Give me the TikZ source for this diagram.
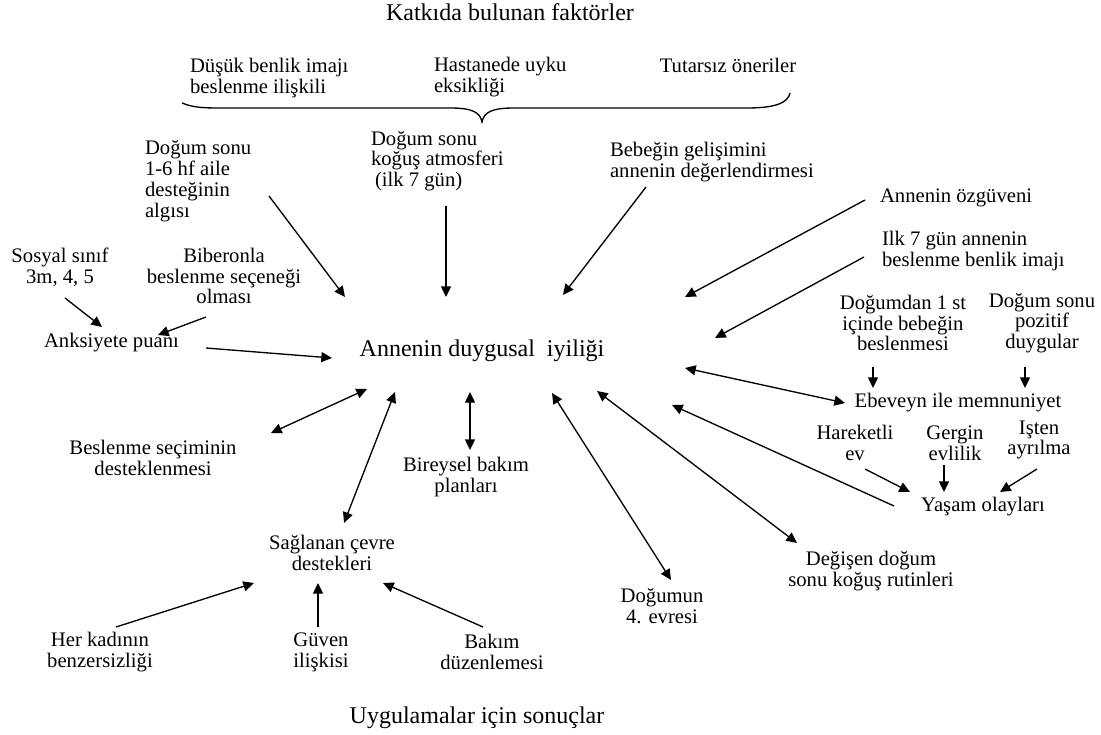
\documentclass[tikz,border=0pt]{standalone}
\usepackage{fontspec}
\setmainfont{Liberation Serif}
\usetikzlibrary{arrows.meta}

\begin{document}
\begin{tikzpicture}[
        x=0.75pt, y=-0.75pt, >={Triangle[length=8pt,width=7.5pt]},
        every node/.style={inner sep=0pt, outer sep=0pt},
        lbl/.style={font=\fontsize{15.5}{15.6}\selectfont, align=center},
        lbll/.style={lbl, align=left, anchor=west},
        big/.style={font=\fontsize{18}{20}\selectfont},
        arr/.style={->, line width=1pt},
        darr/.style={<->, line width=1pt}
        ]
        \useasboundingbox (0,0) rectangle (1101,735);

        % headings and centre
        \node[big] (title)    at (510,12)  {Katkıda bulunan faktörler};
        \node[big] (hub)      at (482,351) {Annenin duygusal\ \ iyiliği};
        \node[big] (sonuc)    at (477,718) {Uygulamalar için sonuçlar};

        % contributing factors
        \node[lbll] (dusuk)     at (190,78)  {Düşük benlik imajı\\beslenme ilişkili};
        \node[lbll] (hastane)   at (434,77)  {Hastanede uyku\\eksikliği};
        \node[lbl]  (tutarsiz)  at (728,65)  {Tutarsız öneriler};
        \node[lbll] (algi)      at (145,181) {Doğum sonu\\1-6 hf aile\\desteğinin\\algısı};
        \node[lbll] (atmosfer)  at (371,161) {Doğum sonu\\koğuş atmosferi\\\hspace*{3pt}(ilk 7 gün)};
        \node[lbll] (bebek)     at (610,162) {Bebeğin gelişimini\\annenin değerlendirmesi};
        \node[lbll] (ozguven)   at (880,198) {Annenin özgüveni};
        \node[lbll] (ilkgun)    at (882,251) {Ilk 7 gün annenin\\beslenme benlik imajı};
        \node[lbl]  (dogumdan)  at (903,323) {Doğumdan 1 st\\içinde bebeğin\\beslenmesi};
        \node[lbl]  (pozitif)   at (1042,323) {Doğum sonu\\pozitif\\duygular};
        \node[lbl]  (ebeveyn)   at (958,403) {Ebeveyn ile memnuniyet};
        \node[lbl]  (hareketli) at (855,443) {Hareketli\\ev};
        \node[lbl]  (gergin)    at (955,443) {Gergin\\evlilik};
        \node[lbl]  (isten)     at (1039,440) {Işten\\ayrılma};
        \node[lbl]  (yasam)     at (983,507) {Yaşam olayları};
        \node[lbll] (anksiyete) at (44,343)  {Anksiyete puanı};
        \node[lbl]  (sosyal)    at (60,267)  {Sosyal sınıf\\3m, 4, 5};
        \node[lbl]  (biberon)   at (224,276) {Biberonla\\beslenme seçeneği\\olması};

        % implications
        \node[lbl] (degisen)  at (871,571) {Değişen doğum\\sonu koğuş rutinleri};
        \node[lbl] (evre)     at (662,606) {Doğumun\\4. evresi};
        \node[lbl] (bireysel) at (466,477) {Bireysel bakım\\planları};
        \node[lbl] (secim)    at (153,458) {Beslenme seçiminin\\desteklenmesi};
        \node[lbl] (saglanan) at (332,553) {Sağlanan çevre\\destekleri};
        \node[lbl] (kadin)    at (100,652) {Her kadının\\benzersizliği};
        \node[lbl] (guven)    at (321,652) {Güven\\ilişkisi};
        \node[lbl] (bakim)    at (492,652) {Bakım\\düzenlemesi};

        % brace under the top three factors
        \draw[line width=1pt] (182,103) .. controls (194,108) and (205,108) .. (225,108) -- (450,108)
            .. controls (472,108) and (480,112) .. (482,122)
            .. controls (484,112) and (492,108) .. (514,108) -- (747,108)
            .. controls (775,108) and (788,103) .. (790,93);

        % arrows into the centre
        \draw[arr] ([shift={(124,15)}]algi.west) -- ([shift={(-137,-54)}]hub.center);
        \draw[arr] ([shift={(75,45)}]atmosfer.west) -- ([shift={(-36,-54)}]hub.center);
        \draw[arr] ([shift={(36,25)}]bebek.west) -- ([shift={(81,-56)}]hub.center);
        \draw[arr] ([shift={(-15,2)}]ozguven.west) -- ([shift={(203,-54)}]hub.center);
        \draw[arr] ([shift={(-18,6)}]ilkgun.west) -- ([shift={(233,-13)}]hub.center);
        \draw[arr] ([shift={(162,5)}]anksiyete.west) -- ([shift={(-150,7)}]hub.center);
        \draw[arr] ([shift={(-89,-1)}]yasam.center) -- ([shift={(190,54)}]hub.center);
        \draw[darr] ([shift={(-113,0)}]ebeveyn.center) -- ([shift={(203,17)}]hub.center);

        % arrows between factors
        \draw[arr] ([shift={(-30,44)}]dogumdan.center) -- ([shift={(-85,-15)}]ebeveyn.center);
        \draw[arr] ([shift={(-17,44)}]pozitif.center) -- ([shift={(67,-15)}]ebeveyn.center);
        \draw[arr] ([shift={(10,26)}]hareketli.center) -- ([shift={(-73,-15)}]yasam.center);
        \draw[arr] ([shift={(-11,22)}]gergin.center) -- ([shift={(-39,-15)}]yasam.center);
        \draw[arr] ([shift={(-2,29)}]isten.center) -- ([shift={(17,-15)}]yasam.center);
        \draw[arr] ([shift={(5,31)}]sosyal.center) -- ([shift={(58,-16)}]anksiyete.west);
        \draw[arr] ([shift={(-18,41)}]biberon.center) -- ([shift={(114,-8)}]anksiyete.west);

        % arrows to the implications
        \draw[darr] ([shift={(-74,-28)}]degisen.center) -- ([shift={(115,40)}]hub.center);
        \draw[darr] ([shift={(9,-26)}]evre.center) -- ([shift={(70,42)}]hub.center);
        \draw[darr] ([shift={(4,-27)}]bireysel.center) -- ([shift={(-12,41)}]hub.center);
        \draw[darr] ([shift={(12,-30)}]saglanan.center) -- ([shift={(-87,41)}]hub.center);
        \draw[darr] ([shift={(118,-25)}]secim.center) -- ([shift={(-115,38)}]hub.center);
        \draw[arr] ([shift={(16,-25)}]kadin.center) -- ([shift={(-78,30)}]saglanan.center);
        \draw[arr] ([shift={(-3,-25)}]guven.center) -- ([shift={(-14,30)}]saglanan.center);
        \draw[arr] ([shift={(-9,-25)}]bakim.center) -- ([shift={(51,30)}]saglanan.center);
\end{tikzpicture}
\end{document}
